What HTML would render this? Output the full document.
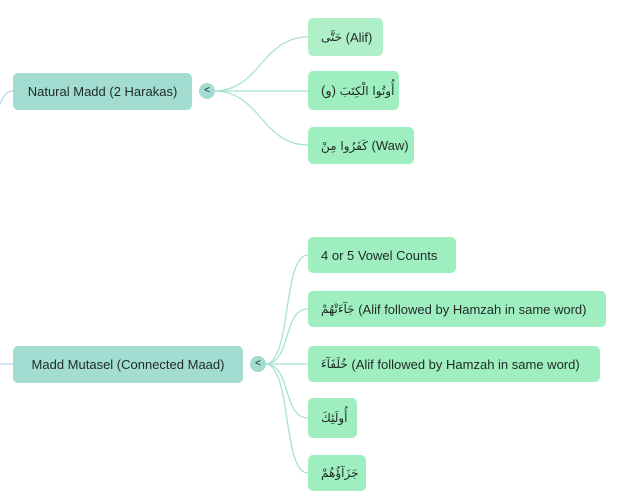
<!DOCTYPE html>
<html><head><meta charset="utf-8"><style>
body{margin:0;width:617px;height:503px;background:#fff;position:relative;overflow:hidden;font-family:"Liberation Sans","DejaVu Sans",sans-serif;}
.b{position:absolute;border-radius:5px;font-size:13px;color:#1f2a28;display:flex;align-items:center;box-sizing:border-box;white-space:nowrap;overflow:hidden;}
.p{background:#a3ddd1;justify-content:center;}
.c{background:#9eeebf;padding-left:13px;}
.ar{font-family:"DejaVu Sans",sans-serif;font-size:12px;}
.o{position:absolute;width:16px;height:16px;border-radius:50%;background:#a3ddd1;font-size:10px;line-height:16px;text-align:center;color:#222;}
svg{position:absolute;left:0;top:0;}
</style></head><body>
<svg width="617" height="503" fill="none">
<path d="M0 104 C4 94,8 91,13 91" stroke="#b8d4f0" stroke-width="1.2"/>
<path d="M0 364 L13 364" stroke="#b8d4f0" stroke-width="1.2"/>
<g stroke="#a8e2d2" stroke-width="1.3">
<path d="M214 91 C260 91,262 37,308 37"/>
<path d="M214 91 L308 91"/>
<path d="M214 91 C260 91,262 145,308 145"/>
<path d="M265 364 C292 364,282 255,308 255"/>
<path d="M265 364 C292 364,282 309,308 309"/>
<path d="M265 364 L308 364"/>
<path d="M265 364 C292 364,282 418,308 418"/>
<path d="M265 364 C292 364,282 473,308 473"/>
</g></svg>
<div class="b p" style="left:13px;top:73px;width:179px;height:37px;">Natural Madd (2 Harakas)</div>
<div class="o" style="left:199px;top:83px;">&lt;</div>
<div class="b c" style="left:308px;top:18px;width:75px;height:38px;background:#b0f0c8;"><span class="ar">حَتَّى</span>&nbsp;(Alif)</div>
<div class="b c" style="left:308px;top:71px;width:91px;height:39px;"><span>(و)</span>&nbsp;<span class="ar">أُوتُوا الْكِتَبَ</span></div>
<div class="b c" style="left:308px;top:127px;width:106px;height:37px;"><span class="ar">كَفَرُوا مِنْ</span>&nbsp;(Waw)</div>
<div class="b p" style="left:13px;top:346px;width:230px;height:37px;">Madd Mutasel (Connected Maad)</div>
<div class="o" style="left:250px;top:356px;">&lt;</div>
<div class="b c" style="left:308px;top:237px;width:148px;height:36px;">4 or 5 Vowel Counts</div>
<div class="b c" style="left:308px;top:291px;width:298px;height:36px;"><span class="ar">جَآءَتْهُمْ</span>&nbsp;(Alif followed by Hamzah in same word)</div>
<div class="b c" style="left:308px;top:346px;width:292px;height:36px;"><span class="ar">خُلَفَآءَ</span>&nbsp;(Alif followed by Hamzah in same word)</div>
<div class="b c" style="left:308px;top:398px;width:49px;height:40px;"><span class="ar">أُولَئِكَ</span></div>
<div class="b c" style="left:308px;top:455px;width:58px;height:36px;"><span class="ar">جَزَآؤُهُمْ</span></div>
</body></html>
